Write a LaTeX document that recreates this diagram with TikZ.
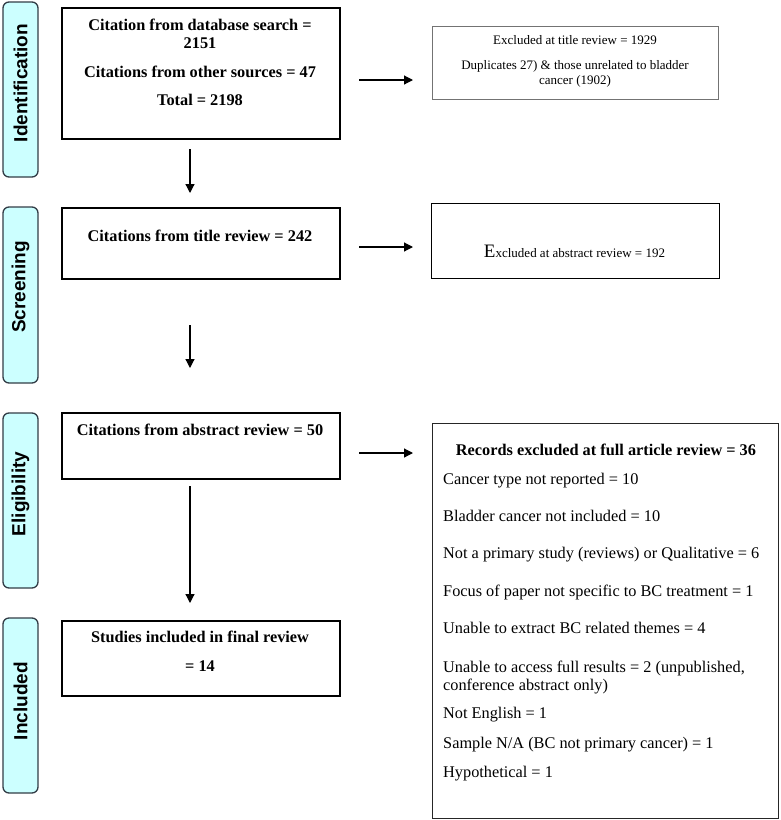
\documentclass[tikz,border=0pt]{standalone}
\usepackage{fontspec}
\setmainfont{Liberation Serif}
\newfontfamily\labelfont{Liberation Sans}
\usetikzlibrary{arrows.meta}
\definecolor{phasefill}{RGB}{204,255,255}
\definecolor{phaseedge}{RGB}{50,60,70}
\begin{document}
\begin{tikzpicture}[x=1pt,y=-1pt,
  phase/.style={draw=phaseedge, line width=1.3pt, fill=phasefill, rounded corners=6pt,
    minimum width=35pt, inner sep=0pt},
  phasetext/.style={font=\labelfont\fontsize{19}{22}\selectfont\bfseries, rotate=90, inner sep=0pt},
  mainbox/.style={draw=black, line width=2.4pt, minimum width=278pt, anchor=north west, inner sep=0pt},
  sidebox/.style={draw=black, line width=1.2pt, anchor=north west, inner sep=0pt},
  btxt/.style={font=\fontsize{16.3}{19}\selectfont\bfseries, anchor=base, inner sep=0pt},
  rtxt/.style={font=\fontsize{16.3}{19}\selectfont, anchor=base west, inner sep=0pt},
  stxt/.style={font=\fontsize{13}{15}\selectfont, anchor=base, inner sep=0pt},
  arr/.style={line width=1.2pt, -{Triangle[length=9pt,width=9pt]}}
]
\useasboundingbox (0,0) rectangle (780,820);

% phase labels
\node[phase, minimum height=175pt] (pid) at (20.5,89.5) {};
\node[phasetext] (tid) at (20.5,83) {Identification};
\node[phase, minimum height=176pt] (psc) at (20.5,295) {};
\node[phasetext] (tsc) at (20.5,287) {Screening};
\node[phase, minimum height=175pt] (pel) at (20.5,500.5) {};
\node[phasetext] (tel) at (20.5,494) {Eligibility};
\node[phase, minimum height=175pt] (pin) at (20.5,705.5) {};
\node[phasetext] (tin) at (20.5,701) {Included};

% main boxes
\node[mainbox, minimum height=131pt] (b1) at (61,7) {};
\node[btxt] (b1a) at (200,30.5) {Citation from database search =};
\node[btxt] (b1b) at (200,48.5) {2151};
\node[btxt] (b1c) at (200,77.5) {Citations from other sources = 47};
\node[btxt] (b1d) at (200,105.5) {Total = 2198};

\node[mainbox, minimum height=71pt] (b2) at (61,207) {};
\node[btxt] (b2a) at (200,241.5) {Citations from title review = 242};

\node[mainbox, minimum height=66pt] (b3) at (61,412) {};
\node[btxt] (b3a) at (200,435.5) {Citations from abstract review = 50};

\node[mainbox, minimum height=75pt] (b4) at (61,620) {};
\node[btxt] (b4a) at (200,642.5) {Studies included in final review};
\node[btxt] (b4b) at (200,671.5) {= 14};

% right boxes
\node[sidebox, draw=black!55, line width=1pt, minimum width=286pt, minimum height=73pt] (r1) at (432,26) {};
\node[stxt] (r1a) at (575,44.3) {Excluded at title review = 1929};
\node[stxt] (r1b) at (575,69.3) {Duplicates 27) \& those unrelated to bladder};
\node[stxt] (r1c) at (575,84.3) {cancer (1902)};

\node[sidebox, minimum width=288pt, minimum height=75pt] (r2) at (431,203) {};
\node[stxt] (r2a) at (574.5,257) {{\fontsize{19}{22}\selectfont E}xcluded at abstract review = 192};

\node[sidebox, draw=black!85, line width=1.3pt, minimum width=346pt, minimum height=395pt] (r3) at (432,423) {};
\node[btxt] (r3t) at (606,455) {Records excluded at full article review = 36};
\node[rtxt] (r3a) at (443,484) {Cancer type not reported = 10};
\node[rtxt] (r3b) at (443,521) {Bladder cancer not included = 10};
\node[rtxt] (r3c) at (443,558) {Not a primary study (reviews) or Qualitative = 6};
\node[rtxt] (r3d) at (443,596) {Focus of paper not specific to BC treatment = 1};
\node[rtxt] (r3e) at (443,633) {Unable to extract BC related themes = 4};
\node[rtxt] (r3f) at (443,672) {Unable to access full results = 2 (unpublished,};
\node[rtxt] (r3g) at (443,690) {conference abstract only)};
\node[rtxt] (r3h) at (443,718) {Not English = 1};
\node[rtxt] (r3i) at (443,748) {Sample N/A (BC not primary cancer) = 1};
\node[rtxt] (r3j) at (443,777) {Hypothetical = 1};

% arrow end points
\coordinate (d1s) at (190,149);
\coordinate (d1e) at (190,193);
\coordinate (d2s) at (190,325);
\coordinate (d2e) at (190,368);
\coordinate (d3s) at (190,486);
\coordinate (d3e) at (190,603);
\coordinate (h1s) at (359,80);
\coordinate (h1e) at (413,80);
\coordinate (h2s) at (359,247);
\coordinate (h2e) at (413,247);
\coordinate (h3s) at (359,453);
\coordinate (h3e) at (413,453);

\draw[arr] (d1s) -- (d1e);
\draw[arr] (d2s) -- (d2e);
\draw[arr] (d3s) -- (d3e);
\draw[arr] (h1s) -- (h1e);
\draw[arr] (h2s) -- (h2e);
\draw[arr] (h3s) -- (h3e);
\end{tikzpicture}
\end{document}
